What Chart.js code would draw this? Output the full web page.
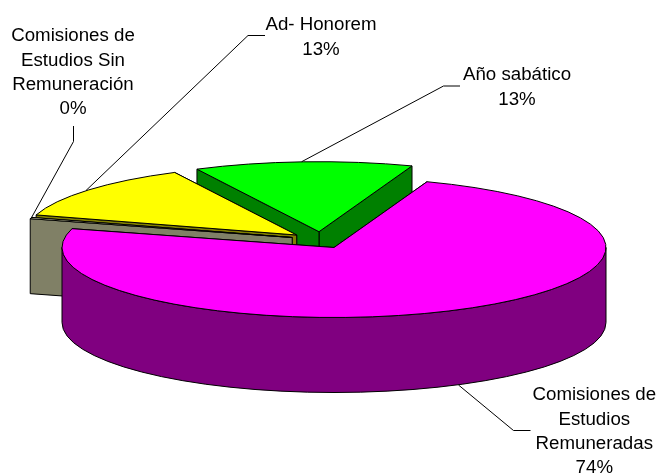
<!DOCTYPE html>
<html>
<head>
<meta charset="utf-8">
<style>html,body{margin:0;padding:0;background:#fff}#box{width:661px;height:475px;position:relative}</style>
<script src="https://cdn.jsdelivr.net/npm/chart.js@4"></script>
</head>
<body>
<div id="box"><canvas id="c" width="661" height="475"></canvas></div>
<script>
// Data
const categories = ['Comisiones de Estudios Remuneradas', 'Comisiones de Estudios Sin Remuneración', 'Ad- Honorem', 'Año sabático'];
const values = [74, 0.3, 13, 13];
const labelLines = [['Comisiones de', 'Estudios', 'Remuneradas'], ['Comisiones de', 'Estudios Sin', 'Remuneración'], ['Ad- Honorem'], ['Año sabático']];
const topColors = ['#FF00FF', '#FFFFCC', '#FFFF00', '#00FF00'];
const sideColors = ['#800080', '#808066', '#808000', '#008000'];

// Presentation
const tilt = 70 / 272;
const depth = 75;
const radius = 272;
const explode = [[0, 0], [-41.8, -10], [-37.3, -12.5], [-15, -15.8]];
const labelAnchors = [[594.3, 395], [73, 36], [321, 25], [517, 75]];
const leaders = [
  [[458.5, 385], [513.5, 430.5], [530.5, 430.5]],
  [[31, 218.5], [73.5, 141.5], [73.5, 126]],
  [[86, 190.5], [248, 35.5], [265, 35.5]],
  [[301.7, 161.7], [443.5, 86], [460, 86]]
];

function topPath(ctx, x, y, r, a0, a1) {
  ctx.beginPath();
  ctx.moveTo(x, y);
  ctx.save(); ctx.translate(x, y); ctx.scale(1, tilt);
  ctx.arc(0, 0, r, a0, a1);
  ctx.restore();
  ctx.closePath();
}
function paint(ctx, fill) {
  ctx.fillStyle = fill; ctx.fill();
  ctx.strokeStyle = '#000'; ctx.lineWidth = 1; ctx.stroke();
}
function radialWall(ctx, x, y, r, a) {
  const ex = x + r * Math.cos(a), ey = y + r * tilt * Math.sin(a);
  ctx.beginPath();
  ctx.moveTo(x, y); ctx.lineTo(ex, ey); ctx.lineTo(ex, ey + depth); ctx.lineTo(x, y + depth);
  ctx.closePath();
}
function outerWall(ctx, x, y, r, a0, a1) {
  // only the part of the rim that faces the viewer
  const from = Math.max(a0, 0), to = Math.min(a1, Math.PI);
  if (to <= from) return false;
  ctx.beginPath();
  ctx.save(); ctx.translate(x, y); ctx.scale(1, tilt);
  ctx.arc(0, 0, r, from, to);
  ctx.restore();
  ctx.save(); ctx.translate(x, y + depth); ctx.scale(1, tilt);
  ctx.arc(0, 0, r, to, from, true);
  ctx.restore();
  ctx.closePath();
  return true;
}

const pie3d = {
  id: 'pie3d',
  beforeDatasetsDraw(chart) {
    const ctx = chart.ctx;
    const arcs = chart.getDatasetMeta(0).data;
    ctx.save();
    ctx.lineJoin = 'round';
    for (let i = arcs.length - 1; i >= 0; i--) {
      const a = arcs[i];
      const x = a.x + explode[i][0], y = a.y + explode[i][1], r = a.outerRadius;
      radialWall(ctx, x, y, r, a.endAngle); paint(ctx, sideColors[i]);
      radialWall(ctx, x, y, r, a.startAngle); paint(ctx, sideColors[i]);
      if (outerWall(ctx, x, y, r, a.startAngle, a.endAngle)) paint(ctx, sideColors[i]);
      topPath(ctx, x, y, r, a.startAngle, a.endAngle); paint(ctx, topColors[i]);
    }
    ctx.restore();
    return false;
  },
  afterDraw(chart) {
    const ctx = chart.ctx;
    const total = values.reduce((s, v) => s + v, 0);
    ctx.save();
    ctx.strokeStyle = '#000'; ctx.lineWidth = 1;
    leaders.forEach(pts => {
      ctx.beginPath();
      pts.forEach((p, k) => k ? ctx.lineTo(p[0], p[1]) : ctx.moveTo(p[0], p[1]));
      ctx.stroke();
    });
    ctx.fillStyle = '#000';
    ctx.font = '18.7px "Liberation Sans", Arial, sans-serif';
    ctx.textAlign = 'center'; ctx.textBaseline = 'middle';
    categories.forEach((c, i) => {
      const lines = labelLines[i].concat(Math.round(values[i] / total * 100) + '%');
      lines.forEach((t, k) => ctx.fillText(t, labelAnchors[i][0], labelAnchors[i][1] + k * 24.4));
    });
    ctx.restore();
  }
};

new Chart(document.getElementById('c'), {
  type: 'pie',
  data: { labels: categories, datasets: [{ data: values, backgroundColor: topColors, borderWidth: 0 }] },
  options: {
    responsive: false, animation: false,
    rotation: 20, radius: radius,
    layout: { padding: { left: 7, top: 20 } },
    plugins: { legend: { display: false }, tooltip: { enabled: false } },
    events: []
  },
  plugins: [pie3d]
});
</script>
</body>
</html>
